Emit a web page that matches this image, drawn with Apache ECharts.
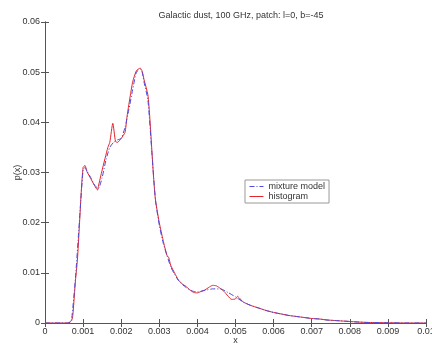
<!DOCTYPE html>
<html>
<head>
<meta charset="utf-8">
<script src="https://cdn.jsdelivr.net/npm/echarts@6/dist/echarts.min.js"></script>
<style>
  html, body { margin: 0; padding: 0; background: #fff; }
  #chart { width: 432px; height: 346px; }
</style>
</head>
<body>
<div id="chart"></div>
<script>
// data
var histX = [0, 0.0006, 0.00066, 0.0007, 0.00073, 0.0008, 0.00085, 0.0009, 0.00095, 0.001, 0.00105,
  0.0011, 0.0012, 0.0013, 0.00138, 0.0014, 0.0015, 0.00165, 0.0017, 0.00178, 0.00185, 0.0019,
  0.002, 0.0021, 0.00215, 0.0022, 0.0023, 0.0024, 0.0025, 0.00255, 0.0026, 0.0027, 0.00275,
  0.0028, 0.00285, 0.0029, 0.003, 0.0031, 0.0032, 0.00325, 0.0033, 0.0034, 0.0035, 0.0036,
  0.0037, 0.0038, 0.0039, 0.004, 0.0041, 0.0042, 0.0043, 0.0044, 0.0045, 0.0046, 0.0047,
  0.0048, 0.0049, 0.005, 0.00505, 0.0051, 0.0052, 0.0054, 0.0056, 0.0058, 0.006, 0.0062,
  0.0064, 0.0066, 0.0068, 0.007, 0.0072, 0.0074, 0.0076, 0.0078, 0.008, 0.0082, 0.0085,
  0.009, 0.0095, 0.01];
var histY = [0, 0, 0.0002, 0.0005, 0.0015, 0.0085, 0.0125, 0.019, 0.026, 0.031, 0.0314,
  0.0302, 0.0288, 0.0274, 0.0265, 0.0272, 0.0305, 0.035, 0.036, 0.0398, 0.0362, 0.036,
  0.0368, 0.038, 0.041, 0.0435, 0.048, 0.0503, 0.0508, 0.0502, 0.0485, 0.0455, 0.041,
  0.035, 0.029, 0.0245, 0.02, 0.0165, 0.0135, 0.013, 0.0115, 0.01, 0.0086, 0.0078,
  0.0073, 0.0066, 0.0061, 0.006, 0.0063, 0.0066, 0.0071, 0.0075, 0.0074, 0.0069, 0.0063,
  0.0054, 0.0047, 0.0048, 0.0053, 0.005, 0.0042, 0.0035, 0.003, 0.0025, 0.0021, 0.0018,
  0.0015, 0.0013, 0.0011, 0.0009, 0.0008, 0.0006, 0.0005, 0.0004, 0.0003, 0.0002, 0.0001,
  0.00005, 0, 0];

var modelX = [0, 0.0006, 0.00066, 0.0007, 0.0008, 0.0009, 0.001, 0.00105, 0.0011, 0.0012, 0.0013,
  0.0014, 0.0015, 0.0016, 0.0017, 0.0018, 0.0019, 0.002, 0.0021, 0.0022, 0.0023, 0.0024,
  0.0025, 0.00255, 0.0026, 0.0027, 0.0028, 0.0029, 0.003, 0.0031, 0.0032, 0.0033, 0.0034,
  0.0035, 0.0036, 0.0037, 0.0038, 0.0039, 0.004, 0.0042, 0.0044, 0.0046, 0.0048, 0.005,
  0.0052, 0.0054, 0.0056, 0.0058, 0.006, 0.0062, 0.0064, 0.0066, 0.0068, 0.007, 0.0072,
  0.0074, 0.0076, 0.0078, 0.008, 0.0082, 0.0085, 0.009, 0.0095, 0.01];
var modelY = [0, 0, 0.0002, 0.0008, 0.009, 0.02, 0.0305, 0.031, 0.0303, 0.029, 0.0275,
  0.0268, 0.029, 0.0325, 0.035, 0.036, 0.0365, 0.0368, 0.039, 0.0425, 0.0465, 0.05,
  0.0506, 0.05, 0.048, 0.0445, 0.0345, 0.0245, 0.0195, 0.016, 0.0135, 0.0112, 0.0097,
  0.0085, 0.0077, 0.0071, 0.0066, 0.0063, 0.0062, 0.0065, 0.0068, 0.0068, 0.0061, 0.0052,
  0.0042, 0.0035, 0.003, 0.0025, 0.0021, 0.0018, 0.0015, 0.0013, 0.0011, 0.0009, 0.0008,
  0.0006, 0.0005, 0.0004, 0.0003, 0.0002, 0.0001, 0.00005, 0, 0];

function pairs(xs, ys) {
  var out = [];
  for (var i = 0; i < xs.length; ++i) out.push([xs[i], ys[i]]);
  return out;
}

var myChart = echarts.init(document.getElementById('chart'));
var font = 'Liberation Sans, Arial, sans-serif';
var axisCol = '#555';

var option = {
  animation: false,
  backgroundColor: '#fff',
  textStyle: { fontFamily: font },
  title: {
    text: 'Galactic dust, 100 GHz, patch: l=0, b=-45',
    left: 236, top: 6, textAlign: 'center',
    textStyle: { fontSize: 9, fontWeight: 'normal', color: '#333', fontFamily: font }
  },
  legend: {
    data: ['mixture model', 'histogram'],
    orient: 'vertical',
    left: 245, top: 180,
    padding: [2, 4, 2, 4],
    itemGap: 1,
    itemWidth: 14, itemHeight: 8,
    borderColor: '#999', borderWidth: 1,
    backgroundColor: '#fff',
    itemStyle: { opacity: 0 },
    lineStyle: { width: 1 },
    textStyle: { fontSize: 9, color: '#333', fontFamily: font }
  },
  grid: { left: 45, right: 6, top: 22, bottom: 23, outerBoundsMode: 'none' },
  xAxis: [{
    type: 'value', min: 0, max: 0.01, interval: 0.001,
    name: 'x', nameLocation: 'middle', nameGap: 13, nameMoveOverlap: false,
    nameTextStyle: { fontSize: 9, color: '#333' },
    axisLine: { show: true, lineStyle: { color: axisCol, width: 1 } },
    axisTick: { inside: true, length: 4, lineStyle: { color: axisCol } },
    axisLabel: { fontSize: 9, color: '#333', margin: 4,
      formatter: function (v) { return v === 0 ? '0' : +v.toFixed(3) + ''; } },
    splitLine: { show: false }
  }, {
    type: 'value', min: 0, max: 0.01, interval: 0.001, position: 'top',
    axisLine: { show: true, lineStyle: { color: axisCol, width: 1 } },
    axisTick: { inside: true, length: 4, lineStyle: { color: axisCol } },
    axisLabel: { show: false },
    splitLine: { show: false }
  }],
  yAxis: [{
    type: 'value', min: 0, max: 0.06, interval: 0.01,
    name: 'p(x)', nameLocation: 'middle', nameGap: 23, nameRotate: 90, nameMoveOverlap: false,
    nameTextStyle: { fontSize: 9, color: '#333' },
    axisLine: { show: true, lineStyle: { color: axisCol, width: 1 } },
    axisTick: { show: true, inside: true, length: 4, lineStyle: { color: axisCol } },
    axisLabel: { fontSize: 9, color: '#333', margin: 5,
      formatter: function (v) { return v === 0 ? '0' : +v.toFixed(2) + ''; } },
    splitLine: { show: false }
  }, {
    type: 'value', min: 0, max: 0.06, interval: 0.01, position: 'right',
    axisLine: { show: true, lineStyle: { color: axisCol, width: 1 } },
    axisTick: { show: true, inside: true, length: 4, lineStyle: { color: axisCol } },
    axisLabel: { show: false },
    splitLine: { show: false }
  }],
  series: [{
    name: 'histogram',
    type: 'line',
    data: pairs(histX, histY),
    showSymbol: false, symbol: 'none',
    smooth: 0.2,
    lineStyle: { color: '#e3262e', width: 1 },
    itemStyle: { color: '#e3262e' }
  }, {
    name: 'mixture model',
    type: 'line',
    data: pairs(modelX, modelY),
    showSymbol: false, symbol: 'none',
    smooth: 0.2,
    lineStyle: { color: '#4a4adc', width: 1, type: [5, 2, 1, 2] },
    itemStyle: { color: '#4a4adc' }
  }]
};

myChart.setOption(option);
</script>
</body>
</html>
